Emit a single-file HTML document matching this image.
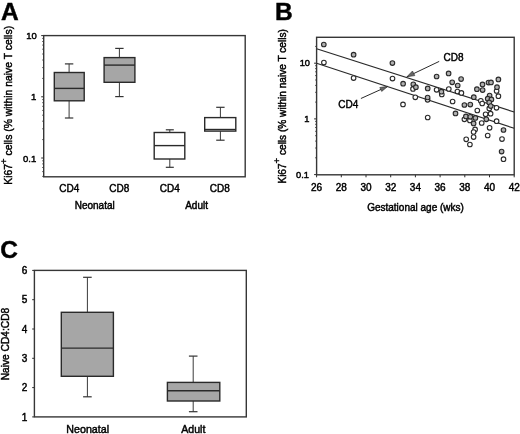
<!DOCTYPE html>
<html><head><meta charset="utf-8"><style>
html,body{margin:0;padding:0;background:#fff;}
svg{display:block;will-change:transform;}
text{font-family:"Liberation Sans", sans-serif;fill:#000;stroke:#000;stroke-width:0.45px;}
</style></head><body>
<svg width="520" height="434" viewBox="0 0 520 434">
<text x="0.9" y="19.9" font-size="24.5" text-anchor="start" font-weight="bold" >A</text>
<line x1="42.2" y1="176.4" x2="43.7" y2="176.4" stroke="#2a2a2a" stroke-width="0.8"/>
<line x1="42.2" y1="171.6" x2="43.7" y2="171.6" stroke="#2a2a2a" stroke-width="0.8"/>
<line x1="42.2" y1="167.5" x2="43.7" y2="167.5" stroke="#2a2a2a" stroke-width="0.8"/>
<line x1="42.2" y1="163.9" x2="43.7" y2="163.9" stroke="#2a2a2a" stroke-width="0.8"/>
<line x1="42.2" y1="160.8" x2="43.7" y2="160.8" stroke="#2a2a2a" stroke-width="0.8"/>
<line x1="42.2" y1="139.6" x2="43.7" y2="139.6" stroke="#2a2a2a" stroke-width="0.8"/>
<line x1="42.2" y1="128.8" x2="43.7" y2="128.8" stroke="#2a2a2a" stroke-width="0.8"/>
<line x1="42.2" y1="121.2" x2="43.7" y2="121.2" stroke="#2a2a2a" stroke-width="0.8"/>
<line x1="42.2" y1="115.2" x2="43.7" y2="115.2" stroke="#2a2a2a" stroke-width="0.8"/>
<line x1="42.2" y1="110.4" x2="43.7" y2="110.4" stroke="#2a2a2a" stroke-width="0.8"/>
<line x1="42.2" y1="106.3" x2="43.7" y2="106.3" stroke="#2a2a2a" stroke-width="0.8"/>
<line x1="42.2" y1="102.7" x2="43.7" y2="102.7" stroke="#2a2a2a" stroke-width="0.8"/>
<line x1="42.2" y1="99.6" x2="43.7" y2="99.6" stroke="#2a2a2a" stroke-width="0.8"/>
<line x1="42.2" y1="78.4" x2="43.7" y2="78.4" stroke="#2a2a2a" stroke-width="0.8"/>
<line x1="42.2" y1="67.6" x2="43.7" y2="67.6" stroke="#2a2a2a" stroke-width="0.8"/>
<line x1="42.2" y1="60.0" x2="43.7" y2="60.0" stroke="#2a2a2a" stroke-width="0.8"/>
<line x1="42.2" y1="54.0" x2="43.7" y2="54.0" stroke="#2a2a2a" stroke-width="0.8"/>
<line x1="42.2" y1="49.2" x2="43.7" y2="49.2" stroke="#2a2a2a" stroke-width="0.8"/>
<line x1="42.2" y1="45.1" x2="43.7" y2="45.1" stroke="#2a2a2a" stroke-width="0.8"/>
<line x1="42.2" y1="41.5" x2="43.7" y2="41.5" stroke="#2a2a2a" stroke-width="0.8"/>
<line x1="42.2" y1="38.4" x2="43.7" y2="38.4" stroke="#2a2a2a" stroke-width="0.8"/>
<line x1="41.2" y1="35.599999999999994" x2="43.7" y2="35.599999999999994" stroke="#2a2a2a" stroke-width="1.0"/>
<line x1="41.2" y1="96.8" x2="43.7" y2="96.8" stroke="#2a2a2a" stroke-width="1.0"/>
<line x1="41.2" y1="158.0" x2="43.7" y2="158.0" stroke="#2a2a2a" stroke-width="1.0"/>
<rect x="43.7" y="35.6" width="201.5" height="141.20000000000002" fill="none" stroke="#363636" stroke-width="1.4"/>
<text x="36.9" y="38.9" font-size="9.5" text-anchor="end" font-weight="normal" >10</text>
<text x="36.2" y="100.4" font-size="9.5" text-anchor="end" font-weight="normal" >1</text>
<text x="36.2" y="162.0" font-size="9.5" text-anchor="end" font-weight="normal" >0.1</text>
<line x1="69.1" y1="63.9" x2="69.1" y2="72.5" stroke="#3a3a3a" stroke-width="1.0"/>
<line x1="69.1" y1="100.8" x2="69.1" y2="118.0" stroke="#3a3a3a" stroke-width="1.0"/>
<line x1="64.89999999999999" y1="63.9" x2="73.3" y2="63.9" stroke="#333" stroke-width="1.2"/>
<line x1="64.89999999999999" y1="118.0" x2="73.3" y2="118.0" stroke="#333" stroke-width="1.2"/>
<rect x="54.3" y="72.5" width="29.900000000000006" height="28.299999999999997" fill="#a6a6a6" stroke="#2a2a2a" stroke-width="1.4"/>
<line x1="54.3" y1="88.4" x2="84.2" y2="88.4" stroke="#2a2a2a" stroke-width="1.4"/>
<line x1="119.4" y1="48.4" x2="119.4" y2="57.6" stroke="#3a3a3a" stroke-width="1.0"/>
<line x1="119.4" y1="82.3" x2="119.4" y2="96.6" stroke="#3a3a3a" stroke-width="1.0"/>
<line x1="115.2" y1="48.4" x2="123.60000000000001" y2="48.4" stroke="#333" stroke-width="1.2"/>
<line x1="115.2" y1="96.6" x2="123.60000000000001" y2="96.6" stroke="#333" stroke-width="1.2"/>
<rect x="104.1" y="57.6" width="30.80000000000001" height="24.699999999999996" fill="#a6a6a6" stroke="#2a2a2a" stroke-width="1.4"/>
<line x1="104.1" y1="65.1" x2="134.9" y2="65.1" stroke="#2a2a2a" stroke-width="1.4"/>
<line x1="169.8" y1="129.8" x2="169.8" y2="132.5" stroke="#3a3a3a" stroke-width="1.0"/>
<line x1="169.8" y1="159.0" x2="169.8" y2="167.3" stroke="#3a3a3a" stroke-width="1.0"/>
<line x1="165.8" y1="129.8" x2="173.8" y2="129.8" stroke="#333" stroke-width="1.2"/>
<line x1="165.8" y1="167.3" x2="173.8" y2="167.3" stroke="#333" stroke-width="1.2"/>
<rect x="154.2" y="132.5" width="30.600000000000023" height="26.5" fill="white" stroke="#2a2a2a" stroke-width="1.4"/>
<line x1="154.2" y1="145.6" x2="184.8" y2="145.6" stroke="#2a2a2a" stroke-width="1.4"/>
<line x1="220.4" y1="107.3" x2="220.4" y2="117.6" stroke="#3a3a3a" stroke-width="1.0"/>
<line x1="220.4" y1="131.1" x2="220.4" y2="140.2" stroke="#3a3a3a" stroke-width="1.0"/>
<line x1="216.20000000000002" y1="107.3" x2="224.6" y2="107.3" stroke="#333" stroke-width="1.2"/>
<line x1="216.20000000000002" y1="140.2" x2="224.6" y2="140.2" stroke="#333" stroke-width="1.2"/>
<rect x="204.7" y="117.6" width="31.100000000000023" height="13.5" fill="white" stroke="#2a2a2a" stroke-width="1.4"/>
<line x1="204.7" y1="129.5" x2="235.8" y2="129.5" stroke="#2a2a2a" stroke-width="1.4"/>
<text x="69.2" y="191.5" font-size="10" text-anchor="middle" font-weight="normal" >CD4</text>
<text x="119.2" y="191.5" font-size="10" text-anchor="middle" font-weight="normal" >CD8</text>
<text x="169.7" y="191.5" font-size="10" text-anchor="middle" font-weight="normal" >CD4</text>
<text x="219.8" y="191.5" font-size="10" text-anchor="middle" font-weight="normal" >CD8</text>
<text x="94.7" y="208.8" font-size="10" text-anchor="middle" font-weight="normal" >Neonatal</text>
<text x="196.6" y="208.8" font-size="10" text-anchor="middle" font-weight="normal" >Adult</text>
<text transform="translate(12.2,184.7) rotate(-90)" font-size="10.4">Ki67<tspan font-size="9.5" dy="-5.5">+</tspan><tspan dy="5.5"> cells (% within naive T cells)</tspan></text>
<text x="275.1" y="19.7" font-size="24.5" text-anchor="start" font-weight="bold" >B</text>
<line x1="315.1" y1="157.8" x2="316.6" y2="157.8" stroke="#2a2a2a" stroke-width="0.8"/>
<line x1="315.1" y1="148.0" x2="316.6" y2="148.0" stroke="#2a2a2a" stroke-width="0.8"/>
<line x1="315.1" y1="141.1" x2="316.6" y2="141.1" stroke="#2a2a2a" stroke-width="0.8"/>
<line x1="315.1" y1="135.7" x2="316.6" y2="135.7" stroke="#2a2a2a" stroke-width="0.8"/>
<line x1="315.1" y1="131.3" x2="316.6" y2="131.3" stroke="#2a2a2a" stroke-width="0.8"/>
<line x1="315.1" y1="127.5" x2="316.6" y2="127.5" stroke="#2a2a2a" stroke-width="0.8"/>
<line x1="315.1" y1="124.3" x2="316.6" y2="124.3" stroke="#2a2a2a" stroke-width="0.8"/>
<line x1="315.1" y1="121.4" x2="316.6" y2="121.4" stroke="#2a2a2a" stroke-width="0.8"/>
<line x1="315.1" y1="102.1" x2="316.6" y2="102.1" stroke="#2a2a2a" stroke-width="0.8"/>
<line x1="315.1" y1="92.3" x2="316.6" y2="92.3" stroke="#2a2a2a" stroke-width="0.8"/>
<line x1="315.1" y1="85.4" x2="316.6" y2="85.4" stroke="#2a2a2a" stroke-width="0.8"/>
<line x1="315.1" y1="80.0" x2="316.6" y2="80.0" stroke="#2a2a2a" stroke-width="0.8"/>
<line x1="315.1" y1="75.6" x2="316.6" y2="75.6" stroke="#2a2a2a" stroke-width="0.8"/>
<line x1="315.1" y1="71.8" x2="316.6" y2="71.8" stroke="#2a2a2a" stroke-width="0.8"/>
<line x1="315.1" y1="68.6" x2="316.6" y2="68.6" stroke="#2a2a2a" stroke-width="0.8"/>
<line x1="315.1" y1="65.7" x2="316.6" y2="65.7" stroke="#2a2a2a" stroke-width="0.8"/>
<line x1="315.1" y1="46.4" x2="316.6" y2="46.4" stroke="#2a2a2a" stroke-width="0.8"/>
<line x1="314.1" y1="63.2" x2="316.6" y2="63.2" stroke="#2a2a2a" stroke-width="1.0"/>
<line x1="314.1" y1="118.9" x2="316.6" y2="118.9" stroke="#2a2a2a" stroke-width="1.0"/>
<line x1="314.1" y1="174.60000000000002" x2="316.6" y2="174.60000000000002" stroke="#2a2a2a" stroke-width="1.0"/>
<line x1="316.6" y1="174.8" x2="316.6" y2="177.3" stroke="#2a2a2a" stroke-width="1.0"/>
<line x1="341.3" y1="174.8" x2="341.3" y2="177.3" stroke="#2a2a2a" stroke-width="1.0"/>
<line x1="366.0" y1="174.8" x2="366.0" y2="177.3" stroke="#2a2a2a" stroke-width="1.0"/>
<line x1="390.70000000000005" y1="174.8" x2="390.70000000000005" y2="177.3" stroke="#2a2a2a" stroke-width="1.0"/>
<line x1="415.40000000000003" y1="174.8" x2="415.40000000000003" y2="177.3" stroke="#2a2a2a" stroke-width="1.0"/>
<line x1="440.1" y1="174.8" x2="440.1" y2="177.3" stroke="#2a2a2a" stroke-width="1.0"/>
<line x1="464.80000000000007" y1="174.8" x2="464.80000000000007" y2="177.3" stroke="#2a2a2a" stroke-width="1.0"/>
<line x1="489.50000000000006" y1="174.8" x2="489.50000000000006" y2="177.3" stroke="#2a2a2a" stroke-width="1.0"/>
<line x1="514.2" y1="174.8" x2="514.2" y2="177.3" stroke="#2a2a2a" stroke-width="1.0"/>
<rect x="316.6" y="37.3" width="197.60000000000002" height="137.5" fill="none" stroke="#363636" stroke-width="1.4"/>
<text x="310.0" y="66.3" font-size="9.3" text-anchor="end" font-weight="normal" >10</text>
<text x="309.4" y="121.89999999999999" font-size="9.3" text-anchor="end" font-weight="normal" >1</text>
<text x="309.0" y="177.60000000000002" font-size="9.3" text-anchor="end" font-weight="normal" >0.1</text>
<text x="316.6" y="190.8" font-size="10" text-anchor="middle" font-weight="normal" >26</text>
<text x="341.3" y="190.8" font-size="10" text-anchor="middle" font-weight="normal" >28</text>
<text x="366.0" y="190.8" font-size="10" text-anchor="middle" font-weight="normal" >30</text>
<text x="390.7" y="190.8" font-size="10" text-anchor="middle" font-weight="normal" >32</text>
<text x="415.4" y="190.8" font-size="10" text-anchor="middle" font-weight="normal" >34</text>
<text x="440.1" y="190.8" font-size="10" text-anchor="middle" font-weight="normal" >36</text>
<text x="464.8" y="190.8" font-size="10" text-anchor="middle" font-weight="normal" >38</text>
<text x="489.5" y="190.8" font-size="10" text-anchor="middle" font-weight="normal" >40</text>
<text x="514.2" y="190.8" font-size="10" text-anchor="middle" font-weight="normal" >42</text>
<text x="415.5" y="211.2" font-size="10" text-anchor="middle" font-weight="normal" >Gestational age (wks)</text>
<text transform="translate(285.8,183.6) rotate(-90)" font-size="10.1">Ki67<tspan font-size="9.5" dy="-5.5">+</tspan><tspan dy="5.5"> cells (% within naive T cells)</tspan></text>
<defs><clipPath id="cb"><rect x="316.6" y="37.3" width="197.60000000000002" height="137.5"/></clipPath></defs>
<g clip-path="url(#cb)">
<line x1="316.6" y1="48.8" x2="514.2" y2="112.0" stroke="#2a2a2a" stroke-width="1.2"/>
<line x1="316.6" y1="63.3" x2="514.2" y2="128.3" stroke="#2a2a2a" stroke-width="1.2"/>
</g>
<circle cx="323.9" cy="62.5" r="2.3" fill="white" stroke="#2a2a2a" stroke-width="1.1"/>
<circle cx="353.6" cy="78.1" r="2.3" fill="white" stroke="#2a2a2a" stroke-width="1.1"/>
<circle cx="392.5" cy="78.6" r="2.3" fill="white" stroke="#2a2a2a" stroke-width="1.1"/>
<circle cx="403" cy="104.4" r="2.3" fill="white" stroke="#2a2a2a" stroke-width="1.1"/>
<circle cx="413" cy="88.9" r="2.3" fill="white" stroke="#2a2a2a" stroke-width="1.1"/>
<circle cx="415.3" cy="97.3" r="2.3" fill="white" stroke="#2a2a2a" stroke-width="1.1"/>
<circle cx="427.7" cy="117.5" r="2.3" fill="white" stroke="#2a2a2a" stroke-width="1.1"/>
<circle cx="436.6" cy="89.8" r="2.3" fill="white" stroke="#2a2a2a" stroke-width="1.1"/>
<circle cx="441.8" cy="94.5" r="2.3" fill="white" stroke="#2a2a2a" stroke-width="1.1"/>
<circle cx="448.8" cy="89" r="2.3" fill="white" stroke="#2a2a2a" stroke-width="1.1"/>
<circle cx="457.4" cy="91.5" r="2.3" fill="white" stroke="#2a2a2a" stroke-width="1.1"/>
<circle cx="461.4" cy="92.9" r="2.3" fill="white" stroke="#2a2a2a" stroke-width="1.1"/>
<circle cx="452.6" cy="101.5" r="2.3" fill="white" stroke="#2a2a2a" stroke-width="1.1"/>
<circle cx="477.3" cy="110.5" r="2.3" fill="white" stroke="#2a2a2a" stroke-width="1.1"/>
<circle cx="480.8" cy="100.8" r="2.3" fill="white" stroke="#2a2a2a" stroke-width="1.1"/>
<circle cx="482.2" cy="103.5" r="2.3" fill="white" stroke="#2a2a2a" stroke-width="1.1"/>
<circle cx="464.4" cy="119.3" r="2.3" fill="white" stroke="#2a2a2a" stroke-width="1.1"/>
<circle cx="469.9" cy="120.4" r="2.3" fill="white" stroke="#2a2a2a" stroke-width="1.1"/>
<circle cx="481.7" cy="123" r="2.3" fill="white" stroke="#2a2a2a" stroke-width="1.1"/>
<circle cx="475.1" cy="129.4" r="2.3" fill="white" stroke="#2a2a2a" stroke-width="1.1"/>
<circle cx="473.6" cy="132" r="2.3" fill="white" stroke="#2a2a2a" stroke-width="1.1"/>
<circle cx="473.6" cy="137.1" r="2.3" fill="white" stroke="#2a2a2a" stroke-width="1.1"/>
<circle cx="466.2" cy="139.3" r="2.3" fill="white" stroke="#2a2a2a" stroke-width="1.1"/>
<circle cx="469.9" cy="144.5" r="2.3" fill="white" stroke="#2a2a2a" stroke-width="1.1"/>
<circle cx="489.6" cy="127.8" r="2.3" fill="white" stroke="#2a2a2a" stroke-width="1.1"/>
<circle cx="487.7" cy="135.5" r="2.3" fill="white" stroke="#2a2a2a" stroke-width="1.1"/>
<circle cx="502" cy="139.1" r="2.3" fill="white" stroke="#2a2a2a" stroke-width="1.1"/>
<circle cx="503.5" cy="159.2" r="2.3" fill="white" stroke="#2a2a2a" stroke-width="1.1"/>
<circle cx="498.4" cy="96.2" r="2.3" fill="white" stroke="#2a2a2a" stroke-width="1.1"/>
<circle cx="496.6" cy="91" r="2.3" fill="white" stroke="#2a2a2a" stroke-width="1.1"/>
<circle cx="496.5" cy="107.8" r="2.3" fill="white" stroke="#2a2a2a" stroke-width="1.1"/>
<circle cx="489.3" cy="108.4" r="2.3" fill="white" stroke="#2a2a2a" stroke-width="1.1"/>
<circle cx="490.6" cy="113.7" r="2.3" fill="white" stroke="#2a2a2a" stroke-width="1.1"/>
<circle cx="485.6" cy="114.3" r="2.3" fill="white" stroke="#2a2a2a" stroke-width="1.1"/>
<circle cx="496.6" cy="121.2" r="2.3" fill="white" stroke="#2a2a2a" stroke-width="1.1"/>
<circle cx="427.6" cy="99.8" r="2.3" fill="white" stroke="#2a2a2a" stroke-width="1.1"/>
<circle cx="323.8" cy="44.5" r="2.3" fill="#b0b0b0" stroke="#2a2a2a" stroke-width="1.1"/>
<circle cx="353.6" cy="54.7" r="2.3" fill="#b0b0b0" stroke="#2a2a2a" stroke-width="1.1"/>
<circle cx="392.4" cy="63.1" r="2.3" fill="#b0b0b0" stroke="#2a2a2a" stroke-width="1.1"/>
<circle cx="403.1" cy="83.7" r="2.3" fill="#b0b0b0" stroke="#2a2a2a" stroke-width="1.1"/>
<circle cx="413.3" cy="84.3" r="2.3" fill="#b0b0b0" stroke="#2a2a2a" stroke-width="1.1"/>
<circle cx="415.9" cy="87.2" r="2.3" fill="#b0b0b0" stroke="#2a2a2a" stroke-width="1.1"/>
<circle cx="427.7" cy="88.4" r="2.3" fill="#b0b0b0" stroke="#2a2a2a" stroke-width="1.1"/>
<circle cx="427.6" cy="97.5" r="2.3" fill="#b0b0b0" stroke="#2a2a2a" stroke-width="1.1"/>
<circle cx="436.6" cy="76.5" r="2.3" fill="#b0b0b0" stroke="#2a2a2a" stroke-width="1.1"/>
<circle cx="448.6" cy="73.4" r="2.3" fill="#b0b0b0" stroke="#2a2a2a" stroke-width="1.1"/>
<circle cx="461.1" cy="79.1" r="2.3" fill="#b0b0b0" stroke="#2a2a2a" stroke-width="1.1"/>
<circle cx="452.2" cy="82.3" r="2.3" fill="#b0b0b0" stroke="#2a2a2a" stroke-width="1.1"/>
<circle cx="457.7" cy="85.5" r="2.3" fill="#b0b0b0" stroke="#2a2a2a" stroke-width="1.1"/>
<circle cx="441.4" cy="91.7" r="2.3" fill="#b0b0b0" stroke="#2a2a2a" stroke-width="1.1"/>
<circle cx="464.4" cy="105" r="2.3" fill="#b0b0b0" stroke="#2a2a2a" stroke-width="1.1"/>
<circle cx="470.3" cy="104.6" r="2.3" fill="#b0b0b0" stroke="#2a2a2a" stroke-width="1.1"/>
<circle cx="473.8" cy="97.2" r="2.3" fill="#b0b0b0" stroke="#2a2a2a" stroke-width="1.1"/>
<circle cx="476.9" cy="89.2" r="2.3" fill="#b0b0b0" stroke="#2a2a2a" stroke-width="1.1"/>
<circle cx="482.5" cy="84.4" r="2.3" fill="#b0b0b0" stroke="#2a2a2a" stroke-width="1.1"/>
<circle cx="482.6" cy="90.1" r="2.3" fill="#b0b0b0" stroke="#2a2a2a" stroke-width="1.1"/>
<circle cx="488.5" cy="82.6" r="2.3" fill="#b0b0b0" stroke="#2a2a2a" stroke-width="1.1"/>
<circle cx="491" cy="82.4" r="2.3" fill="#b0b0b0" stroke="#2a2a2a" stroke-width="1.1"/>
<circle cx="498.4" cy="79.4" r="2.3" fill="#b0b0b0" stroke="#2a2a2a" stroke-width="1.1"/>
<circle cx="497" cy="87.2" r="2.3" fill="#b0b0b0" stroke="#2a2a2a" stroke-width="1.1"/>
<circle cx="489.6" cy="95.6" r="2.3" fill="#b0b0b0" stroke="#2a2a2a" stroke-width="1.1"/>
<circle cx="487.7" cy="98.7" r="2.3" fill="#b0b0b0" stroke="#2a2a2a" stroke-width="1.1"/>
<circle cx="491.4" cy="99.4" r="2.3" fill="#b0b0b0" stroke="#2a2a2a" stroke-width="1.1"/>
<circle cx="489.2" cy="102.4" r="2.3" fill="#b0b0b0" stroke="#2a2a2a" stroke-width="1.1"/>
<circle cx="490.7" cy="106.1" r="2.3" fill="#b0b0b0" stroke="#2a2a2a" stroke-width="1.1"/>
<circle cx="455.5" cy="113.4" r="2.3" fill="#b0b0b0" stroke="#2a2a2a" stroke-width="1.1"/>
<circle cx="465.9" cy="116.4" r="2.3" fill="#b0b0b0" stroke="#2a2a2a" stroke-width="1.1"/>
<circle cx="470.3" cy="116.8" r="2.3" fill="#b0b0b0" stroke="#2a2a2a" stroke-width="1.1"/>
<circle cx="475.4" cy="117.9" r="2.3" fill="#b0b0b0" stroke="#2a2a2a" stroke-width="1.1"/>
<circle cx="473.6" cy="123.4" r="2.3" fill="#b0b0b0" stroke="#2a2a2a" stroke-width="1.1"/>
<circle cx="486.3" cy="119.3" r="2.3" fill="#b0b0b0" stroke="#2a2a2a" stroke-width="1.1"/>
<circle cx="503.5" cy="130" r="2.3" fill="#b0b0b0" stroke="#2a2a2a" stroke-width="1.1"/>
<circle cx="501.6" cy="151.6" r="2.3" fill="#b0b0b0" stroke="#2a2a2a" stroke-width="1.1"/>
<line x1="439.2" y1="61.4" x2="406.9" y2="76.8" stroke="#2a2a2a" stroke-width="1.0"/>
<polygon points="406.9,76.8 412.5,71.0 414.8,75.6" fill="#666" stroke="#2a2a2a" stroke-width="0.6"/>
<line x1="360.9" y1="98.5" x2="387.9" y2="86.3" stroke="#2a2a2a" stroke-width="1.0"/>
<polygon points="387.9,86.3 379.8,87.5 381.7,91.4" fill="#666" stroke="#2a2a2a" stroke-width="0.6"/>
<text x="443.6" y="61.2" font-size="10" text-anchor="start" font-weight="normal" >CD8</text>
<text x="338.3" y="107.6" font-size="10" text-anchor="start" font-weight="normal" >CD4</text>
<text x="0.2" y="257.5" font-size="24.5" text-anchor="start" font-weight="bold" >C</text>
<line x1="32.199999999999996" y1="416.9" x2="34.4" y2="416.9" stroke="#2a2a2a" stroke-width="1.0"/>
<text x="27.4" y="420.5" font-size="10" text-anchor="end" font-weight="normal" >1</text>
<line x1="32.199999999999996" y1="387.59999999999997" x2="34.4" y2="387.59999999999997" stroke="#2a2a2a" stroke-width="1.0"/>
<text x="27.4" y="391.2" font-size="10" text-anchor="end" font-weight="normal" >2</text>
<line x1="32.199999999999996" y1="358.29999999999995" x2="34.4" y2="358.29999999999995" stroke="#2a2a2a" stroke-width="1.0"/>
<text x="27.4" y="361.9" font-size="10" text-anchor="end" font-weight="normal" >3</text>
<line x1="32.199999999999996" y1="329.0" x2="34.4" y2="329.0" stroke="#2a2a2a" stroke-width="1.0"/>
<text x="27.4" y="332.6" font-size="10" text-anchor="end" font-weight="normal" >4</text>
<line x1="32.199999999999996" y1="299.7" x2="34.4" y2="299.7" stroke="#2a2a2a" stroke-width="1.0"/>
<text x="27.4" y="303.3" font-size="10" text-anchor="end" font-weight="normal" >5</text>
<line x1="32.199999999999996" y1="270.4" x2="34.4" y2="270.4" stroke="#2a2a2a" stroke-width="1.0"/>
<text x="27.4" y="274.0" font-size="10" text-anchor="end" font-weight="normal" >6</text>
<rect x="34.4" y="270.4" width="211.9" height="146.5" fill="none" stroke="#363636" stroke-width="1.4"/>
<line x1="87.4" y1="277.3" x2="87.4" y2="312.3" stroke="#3a3a3a" stroke-width="1.0"/>
<line x1="87.4" y1="376.3" x2="87.4" y2="396.8" stroke="#3a3a3a" stroke-width="1.0"/>
<line x1="83.10000000000001" y1="277.3" x2="91.7" y2="277.3" stroke="#333" stroke-width="1.2"/>
<line x1="83.10000000000001" y1="396.8" x2="91.7" y2="396.8" stroke="#333" stroke-width="1.2"/>
<rect x="61.3" y="312.3" width="52.10000000000001" height="64.0" fill="#a6a6a6" stroke="#2a2a2a" stroke-width="1.4"/>
<line x1="61.3" y1="348.1" x2="113.4" y2="348.1" stroke="#2a2a2a" stroke-width="1.4"/>
<line x1="193.2" y1="356.1" x2="193.2" y2="382.4" stroke="#3a3a3a" stroke-width="1.0"/>
<line x1="193.2" y1="401.0" x2="193.2" y2="411.7" stroke="#3a3a3a" stroke-width="1.0"/>
<line x1="188.89999999999998" y1="356.1" x2="197.5" y2="356.1" stroke="#333" stroke-width="1.2"/>
<line x1="188.89999999999998" y1="411.7" x2="197.5" y2="411.7" stroke="#333" stroke-width="1.2"/>
<rect x="167.4" y="382.4" width="52.400000000000006" height="18.600000000000023" fill="#a6a6a6" stroke="#2a2a2a" stroke-width="1.4"/>
<line x1="167.4" y1="390.8" x2="219.8" y2="390.8" stroke="#2a2a2a" stroke-width="1.4"/>
<text x="87.7" y="432.7" font-size="10.7" text-anchor="middle" font-weight="normal" >Neonatal</text>
<text x="193.3" y="432.7" font-size="10.6" text-anchor="middle" font-weight="normal" >Adult</text>
<text transform="translate(9.4,380.3) rotate(-90)" font-size="10.2">Naive CD4:CD8</text>
</svg>
</body></html>
